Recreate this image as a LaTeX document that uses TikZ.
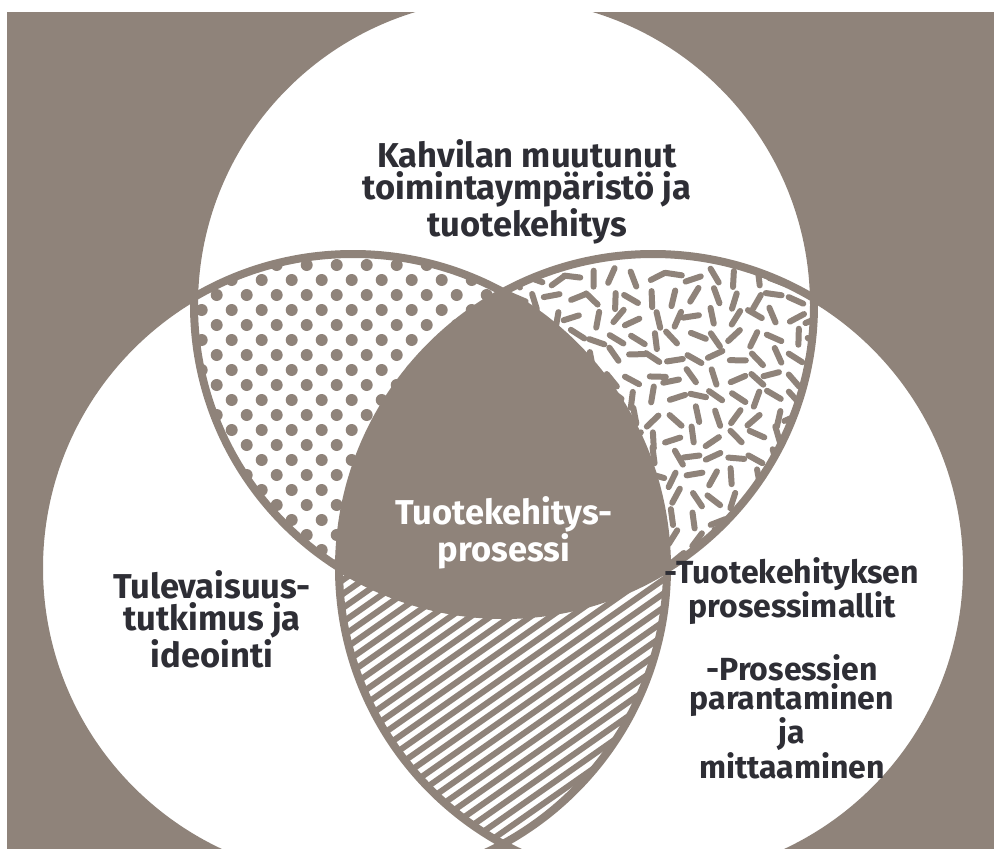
\documentclass[tikz,border=0pt]{standalone}
\usepackage{fontspec}
\setmainfont{Fira Sans}
\definecolor{taupe}{HTML}{8F837A}
\definecolor{ink}{HTML}{2E2E35}
\tikzset{
  outline/.style={draw=taupe, line width=8},
  dotmark/.style={fill=taupe},
  dashstroke/.style={draw=taupe, line width=6, line cap=round},
  hatchline/.style={draw=taupe, line width=6},
  label/.style={align=center, text=ink, font=\bfseries\fontsize{34.5}{32}\selectfont, inner sep=0},
  rightlabel/.style={label, font=\bfseries\fontsize{32}{29.2}\selectfont},
}
\def\TopC{(504,305) circle[radius=310]}
\def\LeftC{(353,568) circle[radius=314]}
\def\RightC{(653,568) circle[radius=314]}
\begin{document}
\begin{tikzpicture}[x=1pt,y=-1pt]
\useasboundingbox (0,0) rectangle (994,849);
\fill[white] (0,0) rectangle (994,849);
\begin{scope}
\clip (7,12) rectangle (994,849);
\fill[taupe] (7,12) rectangle (994,849);
\fill[white] \TopC;
\fill[white] \LeftC;
\fill[white] \RightC;
% dotted lens: top and left
\begin{scope}
\clip \TopC; \clip \LeftC;
\foreach \i in {0,...,11} \foreach \j in {0,...,10} {
  \fill[dotmark] ({186.7+30*\i},{265+30*\j}) circle[radius=6];
  \fill[dotmark] ({201.7+30*\i},{280+30*\j}) circle[radius=6];
}
\end{scope}
% dashed lens: top and right
\begin{scope}
\clip \TopC; \clip \RightC;
\pgfmathsetseed{7}
\foreach \i in {0,...,24} \foreach \j in {0,...,15} {
  \pgfmathsetmacro\xx{335+20*\i+rand*4}
  \pgfmathsetmacro\yy{278+20*\j+rand*4}
  \pgfmathsetmacro\aa{rnd*180}
  \draw[dashstroke, shift={(\xx,\yy)}, rotate=\aa] (-8,0) -- (8,0);
}
\end{scope}
% hatched lens: left and right
\begin{scope}
\clip \LeftC; \clip \RightC;
\foreach \c in {440,454,...,980} {
  \draw[hatchline] (330,{\c+121}) -- (680,{\c-124});
}
\end{scope}
% centre
\begin{scope}
\clip \TopC; \clip \LeftC;
\fill[taupe] \RightC;
\end{scope}
\draw[outline] \TopC;
\draw[outline] \LeftC;
\draw[outline] \RightC;
\end{scope}
\node[label] (top) at (527,192) {Kahvilan muutunut\\toimintaympäristö ja\\tuotekehitys};
\node[label, text=white] (centre) at (504,533) {Tuotekehitys-\\prosessi};
\node[label] (left) at (212,619) {Tulevaisuus-\\tutkimus ja\\ideointi};
\node[rightlabel] (right) at (792,668) {-Tuotekehityksen\\prosessimallit\\[29.2pt]-Prosessien\\parantaminen\\ja\\mittaaminen};
\end{tikzpicture}
\end{document}
